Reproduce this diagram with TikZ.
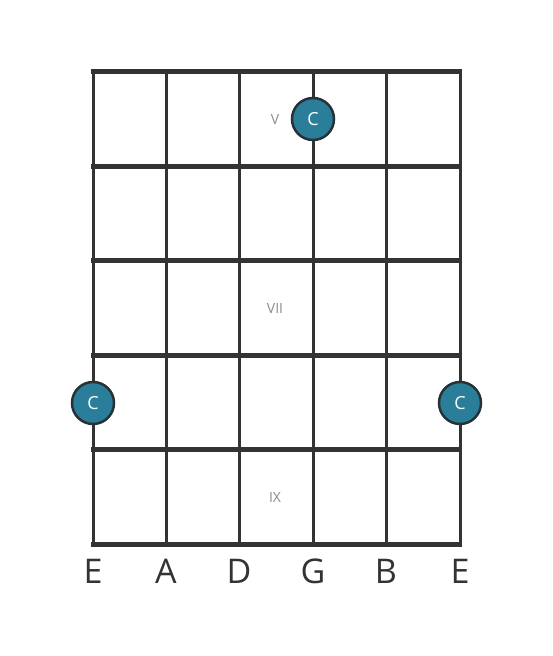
\documentclass[tikz,border=0pt]{standalone}
\usepackage{fontspec}
\setmainfont{Open Sans}
\definecolor{linec}{HTML}{333333}
\definecolor{dotc}{HTML}{2A7E9A}
\definecolor{dotb}{HTML}{263238}
\definecolor{numc}{HTML}{8A8A8A}
\begin{document}
\begin{tikzpicture}[x=1pt,y=1pt,
  fret/.style={draw=linec,line width=5pt},
  strg/.style={draw=linec,line width=3pt},
  dot/.style={circle,fill=dotc,draw=dotb,line width=2.5pt,minimum size=42pt,inner sep=0pt,text=white,font=\fontsize{18}{18}\selectfont},
  num/.style={text=numc,font=\fontsize{14}{14}\selectfont},
  sname/.style={text=linec,font=\fontsize{34}{34}\selectfont}]
\useasboundingbox (0,0) rectangle (553,656);
% strings
\foreach \x/\n in {93/s1,166/s2,239/s3,313/s4,386/s5,460/s6}{
  \coordinate (\n t) at (\x,{656-72});
  \coordinate (\n b) at (\x,{656-545});
  \draw[strg] (\n t) -- (\n b);
}
% frets
\foreach \y/\n in {72/f0,167/f1,261/f2,356/f3,450/f4,545/f5}{
  \coordinate (\n l) at (91,{656-\y});
  \coordinate (\n r) at (462,{656-\y});
  \draw[fret] (\n l) -- (\n r);
}
% position numerals
\node[num] (n5) at (275,{656-120}) {V};
\node[num] (n7) at (275,{656-309}) {VII};
\node[num] (n9) at (275,{656-498}) {IX};
% dots
\node[dot] (d1) at (313,{656-119}) {C};
\node[dot] (d2) at (93,{656-403}) {C};
\node[dot] (d3) at (460,{656-403}) {C};
% string names
\foreach \x/\t/\n in {93/E/l1,166/A/l2,239/D/l3,313/G/l4,386/B/l5,460/E/l6}{
  \node[sname,anchor=base] (\n) at (\x,{656-584}) {\t};
}
\end{tikzpicture}
\end{document}
